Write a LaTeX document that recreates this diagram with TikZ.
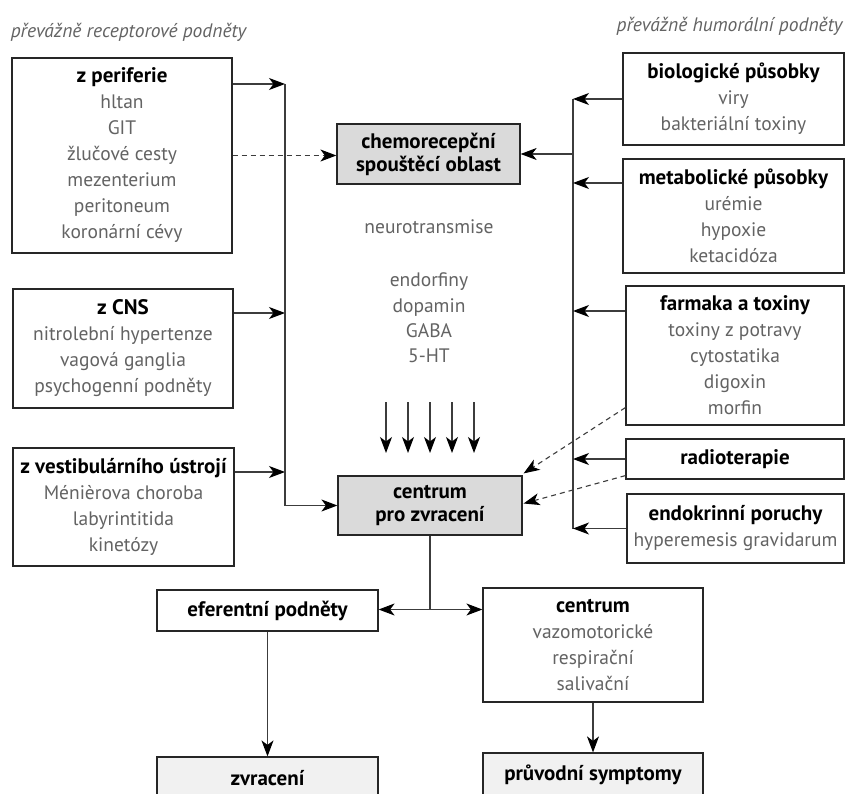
\documentclass[tikz,border=0pt]{standalone}
\usepackage{fontspec}
\setmainfont{PT Sans}
\usetikzlibrary{arrows.meta,calc}
\definecolor{txtgray}{HTML}{636363}
\definecolor{boxline}{HTML}{262626}
\definecolor{lineclr}{HTML}{3C3C3C}
\definecolor{fillgray}{HTML}{DADADA}
\definecolor{filllight}{HTML}{F1F1F1}
\newcommand{\boxhead}[1]{\textcolor{black}{\fontsize{21}{26}\selectfont\bfseries #1}}
\begin{document}
\begin{tikzpicture}[x=1pt,y=-1pt,
  box/.style={draw=boxline, line width=1.2pt, inner sep=0pt, align=center,
    font=\fontsize{19.5}{26}\selectfont, text=txtgray},
  graybox/.style={box, fill=fillgray, font=\fontsize{21}{23}\selectfont\bfseries, text=black},
  endbox/.style={box, fill=filllight, font=\fontsize{21}{23}\selectfont\bfseries, text=black},
  plain/.style={align=center, inner sep=0pt, font=\fontsize{19.5}{25.3}\selectfont, text=txtgray},
  titletext/.style={inner sep=0pt, font=\fontsize{19.5}{22}\selectfont\itshape, text=txtgray},
  conn/.style={draw=lineclr, line width=1.1pt},
  arr/.style={conn, -{Stealth[length=16pt,width=12pt,inset=4.5pt,color=black]}},
  darr/.style={conn, {Stealth[length=16pt,width=12pt,inset=4.5pt,color=black]}-{Stealth[length=16pt,width=12pt,inset=4.5pt,color=black]}},
  dasharr/.style={arr, dash pattern=on 5pt off 4pt}
]
\useasboundingbox (0,0) rectangle (846,794);
\fill[white] (0,0) rectangle (846,794);
\begin{scope}
\clip (0,0) rectangle (846,794);

% titles
\node[titletext] (tleft) at (128.5,32) {převážně receptorové podněty};
\node[titletext] (tright) at (729.5,26) {převážně humorální podněty};

% left boxes
\node[box, minimum width=220pt, minimum height=195pt] (zper) at (122,155.5)
  {\boxhead{z periferie}\\hltan\\GIT\\žlučové cesty\\mezenterium\\peritoneum\\koronární cévy};
\node[box, minimum width=220pt, minimum height=119pt] (zcns) at (123,348.5)
  {\boxhead{z CNS}\\nitrolební hypertenze\\vagová ganglia\\psychogenní podněty};
\node[box, minimum width=221pt, minimum height=118pt] (zvest) at (123.5,507)
  {\boxhead{z vestibulárního ústrojí}\\Ménièrova choroba\\labyrintitida\\kinetózy};

% centre
\node[graybox, minimum width=183pt, minimum height=60pt] (chemo) at (428.5,154)
  {chemorecepční\\spouštěcí oblast};
\node[plain] (neuro) at (429,227) {neurotransmise};
\node[plain] (list) at (429,318) {endorfiny\\dopamin\\GABA\\5-HT};
\node[graybox, minimum width=184pt, minimum height=59pt] (centrum) at (430,505.5)
  {centrum\\pro zvracení};

% right boxes
\node[box, minimum width=221pt, minimum height=92pt] (bio) at (733.5,99)
  {\boxhead{biologické působky}\\viry\\bakteriální toxiny};
\node[box, minimum width=221pt, minimum height=114pt] (meta) at (733.5,216)
  {\boxhead{metabolické působky}\\urémie\\hypoxie\\ketacidóza};
\node[box, minimum width=218pt, minimum height=139pt] (farm) at (735,355.5)
  {\boxhead{farmaka a toxiny}\\toxiny z potravy\\cytostatika\\digoxin\\morfin};
\node[box, minimum width=218pt, minimum height=40pt] (radio) at (735,459)
  {\boxhead{radioterapie}};
\node[box, minimum width=217pt, minimum height=69pt] (endo) at (735.5,528.5)
  {\boxhead{endokrinní poruchy}\\hyperemesis gravidarum};

% bottom
\node[box, minimum width=221pt, minimum height=41pt] (efer) at (267.5,610.5)
  {\boxhead{eferentní podněty}};
\node[box, minimum width=220pt, minimum height=114pt] (cent2) at (593,645)
  {\boxhead{centrum}\\vazomotorické\\respirační\\salivační};
\node[endbox, minimum width=221pt, minimum height=42pt] (zvrac) at (267.5,778)
  {zvracení};
\node[endbox, minimum width=220pt, minimum height=44pt] (pruv) at (593,775)
  {průvodní symptomy};

% left bus
\coordinate (lb1) at (285,84);
\coordinate (lb2) at (285,313);
\coordinate (lb3) at (285,472);
\coordinate (lb4) at (285,505.5);
\draw[arr] (zper.east |- lb1) -- (lb1);
\draw[arr] (zcns.east |- lb2) -- (lb2);
\draw[arr] (zvest.east |- lb3) -- (lb3);
\draw[conn] (lb1) -- (lb4);
\draw[arr] (lb4) -- (centrum.west);
\draw[dasharr] (zper.east) -- (zper.east -| chemo.west);

% right bus
\coordinate (rb1) at (573,99);
\coordinate (rb2) at (573,183);
\coordinate (rb3) at (573,311);
\coordinate (rb4) at (573,459);
\coordinate (rb5) at (573,528.5);
\draw[conn] (rb1) -- (rb5);
\draw[arr] (bio.west |- rb1) -- (rb1);
\draw[arr] (meta.west |- rb2) -- (rb2);
\draw[arr] (farm.west |- rb3) -- (rb3);
\draw[arr] (radio.west |- rb4) -- (rb4);
\draw[arr] (endo.west |- rb5) -- (rb5);
\draw[arr] (chemo.east -| rb1) -- (chemo.east);

% dashed to centrum
\draw[dasharr] ($(farm.south west)+(0,-18)$) -- ($(centrum.north east)+(1,-2)$);
\draw[dasharr] ($(radio.south west)+(0,-4)$) -- ($(centrum.east)+(1,-2)$);

% neurotransmitter arrows
\foreach \xx in {386,408,430,452,474}
  \draw[arr] (\xx,402) -- (\xx,453);

% bottom connections
\coordinate (split) at (430,609.5);
\draw[conn] (centrum.south) -- (centrum.south |- split);
\draw[darr] (efer.east |- split) -- (cent2.west |- split);
\draw[arr] (efer.south) -- (zvrac.north);
\draw[arr] (cent2.south) -- (pruv.north);
\end{scope}
\end{tikzpicture}
\end{document}
